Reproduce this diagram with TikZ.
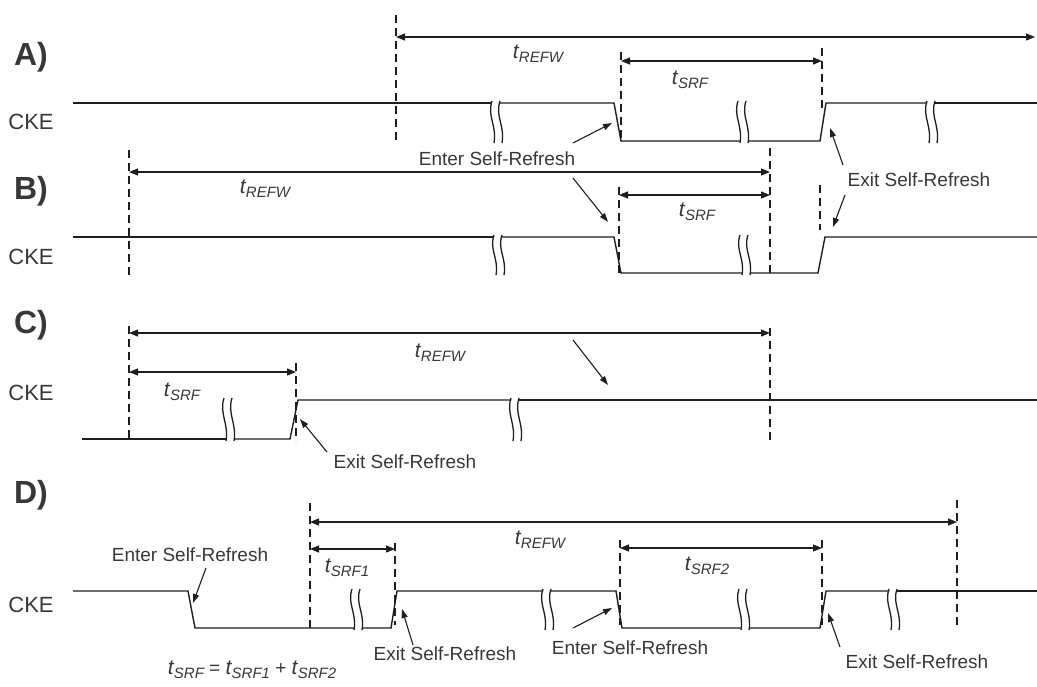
\documentclass[tikz,border=0pt]{standalone}
\usepackage{fontspec}
\setmainfont{Liberation Sans}
\usetikzlibrary{arrows.meta}
\definecolor{ink}{HTML}{1E1E1E}
\definecolor{txt}{HTML}{383838}
\newcommand{\tsub}[1]{{\fontsize{21}{21}\selectfont\itshape t}\kern0.3pt\raisebox{-4pt}{\fontsize{15}{15}\selectfont\itshape #1}}
\newcommand{\brk}[3]{%
  \draw[brkline] (#1-4,#2-2) .. controls (#1-9,#2+0.35*#3-0.35*#2) and (#1+1,#2+0.6*#3-0.6*#2) .. (#1-2,#3+2);
  \draw[brkline] (#1+4,#2-2) .. controls (#1-1,#2+0.35*#3-0.35*#2) and (#1+9,#2+0.6*#3-0.6*#2) .. (#1+6,#3+2);
}
\begin{document}
\begin{tikzpicture}[x=1pt,y=-1pt,
  sig/.style={ink, line width=1.4pt},
  vdash/.style={ink, line width=1.2pt, dash pattern=on 8pt off 5pt},
  dim/.style={ink, line width=1.2pt, {Triangle[length=9pt,width=7pt]}-{Triangle[length=9pt,width=7pt]}},
  ann/.style={ink, line width=1.1pt, -{Triangle[length=9pt,width=6pt]}},
  lbl/.style={txt, font=\fontsize{19}{19}\selectfont, inner sep=0pt},
  sec/.style={txt, font=\fontsize{32}{32}\selectfont\bfseries, inner sep=0pt},
  cke/.style={txt, font=\fontsize{22}{22}\selectfont, inner sep=0pt},
  tlab/.style={txt, inner sep=0pt},
  brkline/.style={ink, line width=1.3pt}
]
\useasboundingbox (0,0) rectangle (1037,686);
\fill[white] (0,0) rectangle (1037,686);

% ---------------- A ----------------
\node[sec] (secA) at (31,57) {A)};
\node[cke] (ckeA) at (31,122) {CKE};
\draw[vdash] (396,15) -- (396,140);
\draw[vdash] (621,52) -- (621,140);
\draw[vdash] (822,48) -- (822,110);
\coordinate (aR1) at (396,37); \coordinate (aR2) at (1035,37);
\draw[dim] (aR1) -- (aR2);
\node[tlab] (tA1) at (538,54) {\tsub{REFW}};
\coordinate (aS1) at (621,61); \coordinate (aS2) at (822,61);
\draw[dim] (aS1) -- (aS2);
\node[tlab] (tA2) at (690,80) {\tsub{SRF}};
\draw[sig] (73,103) -- (492,103);
\draw[sig] (500,103) -- (614,103) -- (621,141) -- (740,141);
\draw[sig] (748,141) -- (820,141) -- (826,103) -- (927,103);
\draw[sig] (935,103) -- (1037,103);
\brk{496}{103}{141}
\brk{742}{103}{141}
\brk{931}{103}{141}

% shared labels A/B
\node[lbl] (enter1) at (497,159) {Enter Self-Refresh};
\coordinate (e1t) at (573,143); \coordinate (e1h) at (612,123);
\coordinate (e2t) at (573,178); \coordinate (e2h) at (608,222);
\draw[ann] (e1t) -- (e1h);
\draw[ann] (e2t) -- (e2h);
\node[lbl] (exit1) at (919,180) {Exit Self-Refresh};
\coordinate (x1t) at (843,165); \coordinate (x1h) at (830,128);
\coordinate (x2t) at (845,195); \coordinate (x2h) at (833,227);
\draw[ann] (x1t) -- (x1h);
\draw[ann] (x2t) -- (x2h);

% ---------------- B ----------------
\node[sec] (secB) at (31,191) {B)};
\node[cke] (ckeB) at (31,257) {CKE};
\draw[vdash] (129,150) -- (129,275);
\draw[vdash] (770,148) -- (770,275);
\draw[vdash] (619,187) -- (619,275);
\draw[vdash] (820,185) -- (820,230);
\coordinate (bR1) at (129,172); \coordinate (bR2) at (770,172);
\draw[dim] (bR1) -- (bR2);
\node[tlab] (tB1) at (265,189) {\tsub{REFW}};
\coordinate (bS1) at (619,195); \coordinate (bS2) at (770,195);
\draw[dim] (bS1) -- (bS2);
\node[tlab] (tB2) at (697,212) {\tsub{SRF}};
\draw[sig] (73,237) -- (494,237);
\draw[sig] (502,237) -- (614,237) -- (621,273) -- (742,273);
\draw[sig] (750,273) -- (818,273) -- (825,237) -- (1037,237);
\brk{498}{237}{273}
\brk{744}{237}{273}

% ---------------- C ----------------
\node[sec] (secC) at (31,325) {C)};
\node[cke] (ckeC) at (31,393) {CKE};
\draw[vdash] (129,326) -- (129,441);
\draw[vdash] (770,328) -- (770,441);
\draw[vdash] (296,363) -- (296,441);
\coordinate (cR1) at (129,333); \coordinate (cR2) at (770,333);
\draw[dim] (cR1) -- (cR2);
\node[tlab] (tC1) at (440,353) {\tsub{REFW}};
\coordinate (cS1) at (129,372); \coordinate (cS2) at (296,372);
\draw[dim] (cS1) -- (cS2);
\node[tlab] (tC2) at (182,392) {\tsub{SRF}};
\coordinate (cdt) at (573,340); \coordinate (cdh) at (608,385);
\draw[ann] (cdt) -- (cdh);
\draw[sig] (82,439) -- (226,439);
\draw[sig] (234,439) -- (290,439) -- (298,400) -- (511,400);
\draw[sig] (519,400) -- (1037,400);
\brk{228}{400}{439}
\brk{515}{400}{439}
\node[lbl] (exit2) at (405,462) {Exit Self-Refresh};
\coordinate (x3t) at (327,452); \coordinate (x3h) at (300,419);
\draw[ann] (x3t) -- (x3h);

% ---------------- D ----------------
\node[sec] (secD) at (31,495) {D)};
\node[cke] (ckeD) at (31,605) {CKE};
\draw[vdash] (310,503) -- (310,632);
\draw[vdash] (395,543) -- (395,625);
\draw[vdash] (620,540) -- (620,625);
\draw[vdash] (822,540) -- (822,625);
\draw[vdash] (957,500) -- (957,628);
\coordinate (dR1) at (310,522); \coordinate (dR2) at (957,522);
\draw[dim] (dR1) -- (dR2);
\node[tlab] (tD1) at (540,540) {\tsub{REFW}};
\coordinate (dS1) at (310,549); \coordinate (dS2) at (395,549);
\draw[dim] (dS1) -- (dS2);
\node[tlab] (tD2) at (347,568) {\tsub{SRF1}};
\coordinate (dT1) at (620,548); \coordinate (dT2) at (822,548);
\draw[dim] (dT1) -- (dT2);
\node[tlab] (tD3) at (707,566) {\tsub{SRF2}};
\draw[sig] (73,591) -- (188,591) -- (195,628) -- (354,628);
\draw[sig] (362,628) -- (391,628) -- (397,591) -- (543,591);
\draw[sig] (551,591) -- (616,591) -- (622,628) -- (741,628);
\draw[sig] (749,628) -- (820,628) -- (826,591) -- (889,591);
\draw[sig] (897,591) -- (1037,591);
\brk{356}{591}{628}
\brk{547}{591}{628}
\brk{743}{591}{628}
\brk{893}{591}{628}
\node[lbl] (enterD1) at (190,555) {Enter Self-Refresh};
\coordinate (ed1t) at (206,568); \coordinate (ed1h) at (193,603);
\draw[ann] (ed1t) -- (ed1h);
\node[lbl] (exitD1) at (445,654) {Exit Self-Refresh};
\coordinate (xd1t) at (413,645); \coordinate (xd1h) at (402,609);
\draw[ann] (xd1t) -- (xd1h);
\node[lbl] (enterD2) at (630,648) {Enter Self-Refresh};
\coordinate (ed2t) at (573,628); \coordinate (ed2h) at (612,608);
\draw[ann] (ed2t) -- (ed2h);
\node[lbl] (exitD2) at (917,662) {Exit Self-Refresh};
\coordinate (xd2t) at (840,647); \coordinate (xd2h) at (828,613);
\draw[ann] (xd2t) -- (xd2h);
\node[tlab, font=\fontsize{19}{19}\selectfont] (eq) at (252,670) {\tsub{SRF} = \tsub{SRF1} + \tsub{SRF2}};
\end{tikzpicture}
\end{document}
